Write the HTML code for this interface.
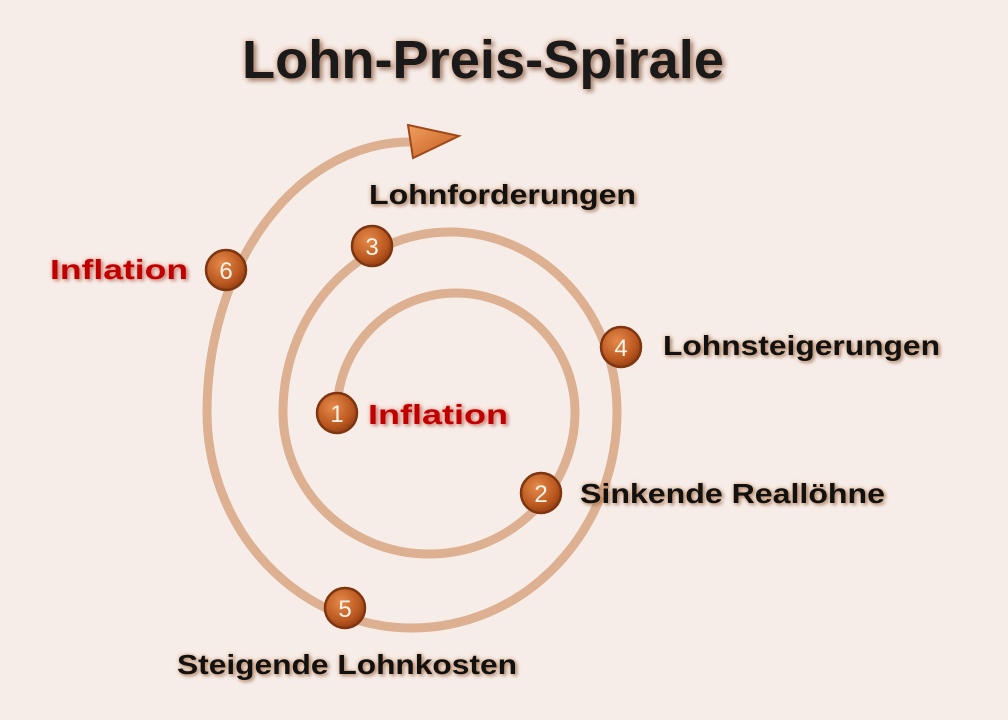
<!DOCTYPE html>
<html><head><meta charset="utf-8"><style>
html,body{margin:0;padding:0;background:#f7ede8;}
svg{display:block}
text{font-family:"Liberation Sans",sans-serif;font-weight:bold;}
.l{font-size:28px;fill:#111;text-shadow:0 0 4px rgba(200,140,90,.8),2px 2px 3px rgba(120,70,40,.5);}
.r{font-size:28px;fill:#c00000;text-shadow:0 0 4px rgba(230,120,100,.8),2px 2px 3px rgba(120,40,30,.4);}
.n{font-size:24px;fill:#fff4ea;font-weight:normal;}
</style></head><body>
<svg width="1008" height="720" viewBox="0 0 1008 720" xmlns="http://www.w3.org/2000/svg">
<defs>
<radialGradient id="g" cx="40%" cy="35%" r="70%">
<stop offset="0" stop-color="#e68a4a"/><stop offset="0.7" stop-color="#b8561e"/><stop offset="1" stop-color="#8e3c12"/>
</radialGradient>
<linearGradient id="a" x1="0" y1="0" x2="1" y2="1"><stop offset="0" stop-color="#f0a060"/><stop offset="1" stop-color="#c25a1c"/></linearGradient>
</defs>
<rect width="1008" height="720" fill="#f7ede8"/>
<text x="483" y="78" text-anchor="middle" font-size="54" fill="#1a1a1a" textLength="482" lengthAdjust="spacingAndGlyphs" style="text-shadow:0 0 6px rgba(190,120,80,.8),3px 3px 4px rgba(100,60,40,.5)">Lohn-Preis-Spirale</text>
<path d="M337,412 A119,119 0 0 1 575,412 A146,142 0 0 1 283,412 A167,180 0 0 1 617,412 A205,216 0 0 1 207,412 A203,270 0 0 1 410,142" fill="none" stroke="#ddb092" stroke-width="9"/>
<polygon points="408,125 459,136 413,158" fill="url(#a)" stroke="#a0481a" stroke-width="2"/>
<g stroke="#7e3510" stroke-width="2.5" fill="url(#g)">
<circle cx="337" cy="413" r="20"/><circle cx="541" cy="493" r="20"/><circle cx="372" cy="246" r="20"/>
<circle cx="621" cy="347" r="20"/><circle cx="345" cy="608" r="20"/><circle cx="226" cy="270" r="20"/>
</g>
<g class="n" text-anchor="middle">
<text class="n" x="337" y="422">1</text><text class="n" x="541" y="502">2</text><text class="n" x="372" y="255">3</text>
<text class="n" x="621" y="356">4</text><text class="n" x="345" y="617">5</text><text class="n" x="226" y="279">6</text>
</g>
<text class="l" x="369" y="204" textLength="267" lengthAdjust="spacingAndGlyphs">Lohnforderungen</text>
<text class="r" x="50" y="279" textLength="138" lengthAdjust="spacingAndGlyphs">Inflation</text>
<text class="l" x="663" y="355" textLength="277" lengthAdjust="spacingAndGlyphs">Lohnsteigerungen</text>
<text class="r" x="368" y="424" textLength="140" lengthAdjust="spacingAndGlyphs">Inflation</text>
<text class="l" x="580" y="503" textLength="305" lengthAdjust="spacingAndGlyphs">Sinkende Reallöhne</text>
<text class="l" x="177" y="674" textLength="340" lengthAdjust="spacingAndGlyphs">Steigende Lohnkosten</text>
</svg>
</body></html>
